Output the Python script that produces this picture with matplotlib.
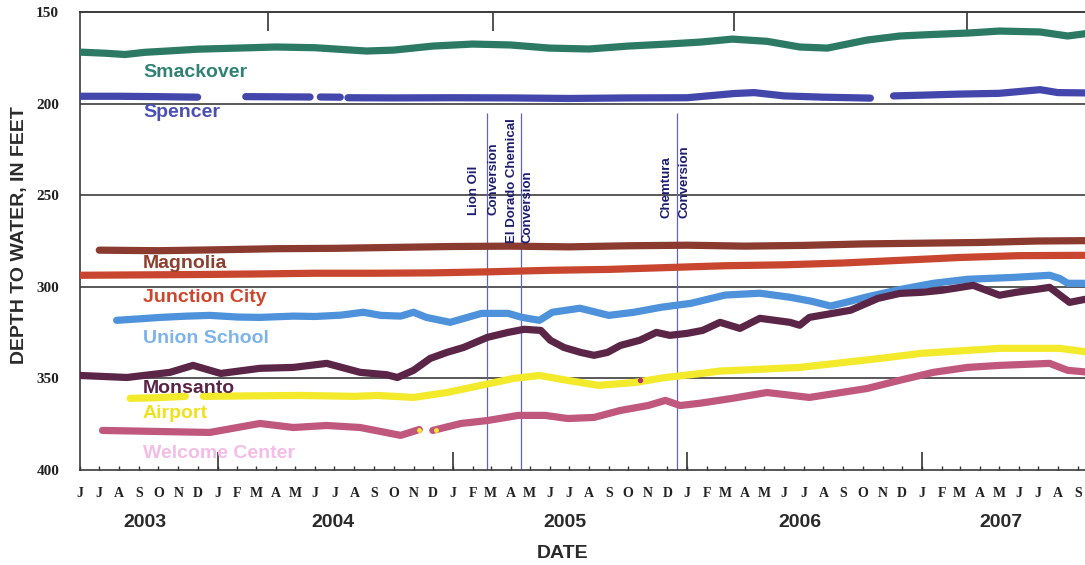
import matplotlib
matplotlib.use("Agg")
import matplotlib.pyplot as plt
import matplotlib.dates as mdates
import matplotlib.transforms as mtransforms
import numpy as np
import pandas as pd

# ---------------- data ----------------
smack_dates = ["2003-06-01", "2003-07-10", "2003-08-10", "2003-09-10", "2003-10-15", "2003-12-01",
               "2004-02-01", "2004-04-01", "2004-06-01", "2004-07-15", "2004-08-20", "2004-10-01",
               "2004-12-01", "2005-02-01", "2005-04-01", "2005-06-01", "2005-08-01", "2005-10-01",
               "2005-12-01", "2006-01-22", "2006-03-12", "2006-05-05", "2006-06-25", "2006-08-07",
               "2006-10-08", "2006-11-28", "2007-01-15", "2007-03-13", "2007-05-02", "2007-07-04",
               "2007-08-16", "2007-09-20"]
smack_vals = [171.9, 172.5, 173.2, 172.0, 171.3, 170.3, 169.7, 169.1, 169.5, 170.5, 171.3, 170.8,
              168.6, 167.5, 168.0, 169.7, 170.2, 168.6, 167.5, 166.4, 164.8, 166.0, 169.1, 169.7,
              165.3, 163.1, 162.3, 161.5, 160.4, 160.9, 163.1, 161.5]

spencer_dates = ["2003-06-01", "2003-08-01", "2003-10-01", "2003-12-01", "2004-01-01",
                 "2004-02-14", "2004-05-24", "2004-06-01",
                 "2004-06-09", "2004-07-10", "2004-07-15",
                 "2004-07-22", "2004-10-01", "2005-01-01", "2005-04-01", "2005-07-01", "2005-10-01",
                 "2006-01-01", "2006-03-15", "2006-04-15", "2006-06-01", "2006-08-01", "2006-10-13",
                 "2006-11-01",
                 "2006-11-18", "2007-01-01", "2007-03-01", "2007-05-01", "2007-07-04", "2007-08-01",
                 "2007-09-20"]
spencer_vals = [196.0, 196.0, 196.2, 196.5, np.nan,
                196.2, 196.4, np.nan,
                196.4, 196.5, np.nan,
                196.8, 196.9, 196.8, 196.9, 197.2, 196.9,
                196.8, 194.5, 194.0, 195.8, 196.5, 197.0,
                np.nan,
                195.8, 195.4, 194.8, 194.4, 192.4, 194.0, 194.2]

magnolia_dates = ["2003-07-01", "2003-10-01", "2004-01-01", "2004-04-01", "2004-07-01", "2004-10-01",
                  "2005-01-01", "2005-04-01", "2005-07-01", "2005-10-01", "2006-01-01", "2006-04-01",
                  "2006-07-01", "2006-10-01", "2007-01-01", "2007-04-01", "2007-07-01", "2007-09-20"]
magnolia_vals = [280.0, 280.3, 279.8, 279.2, 279.0, 278.5, 278.0, 277.8, 278.2, 277.6, 277.3, 277.8,
                 277.4, 276.6, 276.2, 275.8, 275.0, 274.8]

junction_dates = ["2003-06-01", "2003-09-01", "2003-12-01", "2004-03-01", "2004-06-01", "2004-09-01",
                  "2004-12-01", "2005-03-01", "2005-06-01", "2005-09-01", "2005-12-01", "2006-03-01",
                  "2006-06-01", "2006-09-01", "2006-12-01", "2007-03-01", "2007-06-01", "2007-09-20"]
junction_vals = [293.7, 293.5, 293.3, 293.0, 292.6, 292.6, 292.4, 291.8, 291.0, 290.5, 289.5, 288.5,
                 288.0, 287.0, 285.5, 284.0, 283.0, 282.8]

union_dates = ["2003-07-28", "2003-09-01", "2003-10-04", "2003-11-15", "2003-12-20", "2004-02-01",
               "2004-03-07", "2004-04-28", "2004-06-01", "2004-07-10", "2004-08-15", "2004-09-11",
               "2004-10-12", "2004-11-01", "2004-11-21", "2004-12-28", "2005-02-15", "2005-03-28",
               "2005-04-19", "2005-05-16", "2005-06-05", "2005-07-18", "2005-09-01", "2005-10-10",
               "2005-11-21", "2006-01-07", "2006-03-01", "2006-04-24", "2006-06-10", "2006-07-15",
               "2006-08-12", "2006-09-05", "2006-10-08", "2006-11-28", "2007-01-19", "2007-03-13",
               "2007-05-28", "2007-07-19", "2007-08-04", "2007-08-16", "2007-09-20"]
union_vals = [318.3, 317.5, 316.7, 316.0, 315.6, 316.5, 316.7, 316.0, 316.2, 315.5, 313.9, 315.6,
              316.0, 313.9, 316.7, 319.4, 314.5, 314.5, 316.7, 318.3, 313.9, 311.7, 315.6, 313.9,
              311.2, 309.0, 304.5, 303.5, 305.7, 308.0, 310.5, 308.5, 305.5, 301.5, 298.1, 295.9,
              294.8, 293.7, 295.5, 298.1, 298.1]

monsanto_dates = ["2003-06-01", "2003-08-13", "2003-10-19", "2003-11-24", "2004-01-06", "2004-03-07",
                  "2004-04-28", "2004-06-19", "2004-08-10", "2004-09-20", "2004-10-07", "2004-11-01",
                  "2004-11-27", "2004-12-23", "2005-01-18", "2005-02-24", "2005-03-28", "2005-04-22",
                  "2005-05-18", "2005-06-02", "2005-06-23", "2005-07-19", "2005-08-09", "2005-08-30",
                  "2005-09-19", "2005-10-19", "2005-11-14", "2005-12-05", "2006-01-01", "2006-01-25",
                  "2006-02-21", "2006-03-24", "2006-04-24", "2006-06-10", "2006-06-25", "2006-07-10",
                  "2006-09-12", "2006-10-25", "2006-11-28", "2007-01-01", "2007-02-01", "2007-03-22",
                  "2007-05-02", "2007-05-28", "2007-07-19", "2007-08-19", "2007-09-20"]
monsanto_vals = [348.4, 349.5, 346.7, 342.9, 347.3, 344.5, 344.0, 341.8, 346.7, 348.0, 349.5, 345.6,
                 339.1, 335.8, 333.1, 327.6, 324.9, 323.2, 323.8, 329.2, 333.1, 335.8, 337.4, 335.8,
                 332.0, 329.2, 324.9, 326.5, 325.4, 323.8, 319.4, 322.7, 317.2, 319.4, 321.0, 316.7,
                 312.8, 306.3, 303.6, 303.0, 301.9, 299.2, 304.6, 303.0, 300.3, 308.5, 306.3]

airport_dates = ["2003-08-18", "2003-10-01", "2003-11-12", "2003-11-25",
                 "2003-12-10", "2004-03-01", "2004-05-08", "2004-08-01", "2004-09-06", "2004-11-01",
                 "2004-12-23", "2005-02-14", "2005-04-06", "2005-05-16", "2005-06-29", "2005-08-16",
                 "2005-10-12", "2005-11-28", "2006-01-18", "2006-02-21", "2006-06-25", "2006-10-28",
                 "2007-01-01", "2007-05-02", "2007-08-04", "2007-09-20"]
airport_vals = [360.9, 360.5, 359.8, np.nan,
                359.8, 359.5, 359.3, 359.8, 359.3, 360.4,
                357.7, 353.8, 350.0, 348.4, 351.1, 353.8,
                352.2, 349.5, 347.5, 346.0, 344.0, 339.1,
                336.3, 333.6, 333.6, 335.8]

welcome_dates = ["2003-07-06", "2003-10-04", "2003-12-20", "2004-03-07", "2004-04-28", "2004-06-19",
                 "2004-08-10", "2004-10-12", "2004-11-10", "2004-11-20",
                 "2004-12-01", "2005-01-14", "2005-02-24", "2005-04-13", "2005-05-25", "2005-06-29",
                 "2005-08-09", "2005-09-19", "2005-11-01", "2005-11-28", "2005-12-21", "2006-01-22",
                 "2006-03-12", "2006-05-05", "2006-07-10", "2006-10-08", "2006-11-28", "2007-01-19",
                 "2007-03-13", "2007-05-02", "2007-07-19", "2007-08-16", "2007-09-20"]
welcome_vals = [378.4, 379.0, 379.5, 374.6, 376.8, 375.7,
                376.8, 381.1, 377.9, np.nan,
                378.4, 374.6, 373.0, 370.2, 370.2, 371.9,
                371.3, 367.5, 364.8, 362.0, 364.8, 363.5,
                360.9, 357.7, 360.4, 355.5, 351.0, 346.7,
                344.0, 342.9, 341.8, 345.6, 346.7]

series_names = ["Smackover", "Spencer", "Magnolia", "Junction City", "Union School",
                "Monsanto", "Airport", "Welcome Center"]
label_values = [182.8, 204.6, 287.2, 305.7, 328.1, 355.5, 369.1, 391.0]

conv_dates = ["2005-02-24", "2005-04-18", "2005-12-16"]
conv_line1 = ["Lion Oil", "El Dorado Chemical", "Chemtura"]
conv_line2 = ["Conversion", "Conversion", "Conversion"]

month_letters = list("JJASOND" + "JFMAMJJASOND" * 4)[:52]
year_labels = ["2003", "2004", "2005", "2006", "2007"]
year_label_dates = ["2003-09-10", "2004-06-29", "2005-06-25", "2006-06-25", "2007-05-04"]
top_tick_dates = ["2004-03-19", "2005-03-04", "2006-03-14", "2007-03-13"]
y_ticks = [150, 200, 250, 300, 350, 400]

# ---------------- styles ----------------
line_colors = ["#2c7a63", "#4347ab", "#8a3a2e", "#c8462f", "#4d92da", "#5b2547", "#f3ea2c", "#c0587d"]
text_colors = ["#2f8274", "#4a4fb6", "#8e3f2e", "#d0442b", "#7db3ea", "#5a2446", "#efe11c", "#f4bce6"]

SANS = ["Liberation Sans", "DejaVu Sans"]
SERIF = ["Liberation Serif", "DejaVu Serif"]

fig = plt.figure(figsize=(10.85, 5.65), dpi=100)
ax = fig.add_axes([80 / 1085, 1 - 470 / 565, 1 - 80 / 1085, (470 - 12) / 565])

xs = [pd.to_datetime(d) for d in [smack_dates, spencer_dates, magnolia_dates, junction_dates,
                                   union_dates, monsanto_dates, airport_dates, welcome_dates]]
ys = [smack_vals, spencer_vals, magnolia_vals, junction_vals, union_vals, monsanto_vals,
      airport_vals, welcome_vals]

for x, y, c in zip(xs, ys, line_colors):
    ax.plot(x, y, color=c, lw=5.2, solid_capstyle="round", solid_joinstyle="round", zorder=3)

# small stray dots seen on the record
ax.scatter(pd.to_datetime(["2004-11-10", "2004-12-06"]), [377.9, 378.2], s=6, color="#f3ea2c", zorder=4)
ax.scatter(pd.to_datetime(["2005-10-19"]), [351.1], s=8, color="#b0306a", zorder=4)

ax.set_ylim(400, 150)
ax.set_xlim(pd.Timestamp("2003-06-01"), pd.Timestamp("2007-09-12"))

# horizontal grid
for v in y_ticks[1:-1]:
    ax.axhline(v, color="#3c3c3c", lw=1.2, zorder=1)

# conversion lines
cd = pd.to_datetime(conv_dates)
ax.vlines(cd, 205, 400, color="#6060d8", lw=0.9, zorder=2)
offs1 = [-13, -9, -10]
offs2 = [6, 6, 8]
bottoms = [260.9, 276.2, 262.6]
for d, t1, t2, o1, o2, b in zip(cd, conv_line1, conv_line2, offs1, offs2, bottoms):
    tr1 = ax.transData + mtransforms.ScaledTranslation(o1 / 100, 0, fig.dpi_scale_trans)
    tr2 = ax.transData + mtransforms.ScaledTranslation(o2 / 100, 0, fig.dpi_scale_trans)
    ax.text(d, b, t1, rotation=90, ha="center", va="bottom", fontsize=9.5, fontweight="bold",
            family=SANS, color="#1d1d70", transform=tr1, zorder=5)
    ax.text(d, b, t2, rotation=90, ha="center", va="bottom", fontsize=9.5, fontweight="bold",
            family=SANS, color="#1d1d70", transform=tr2, zorder=5)

# series labels
lt = mtransforms.blended_transform_factory(ax.transAxes, ax.transData)
for name, v, c in zip(series_names, label_values, text_colors):
    ax.text(0.0627, v, name, transform=lt, ha="left", va="center", fontsize=14,
            fontweight="bold", family=SANS, color=c, zorder=6)

# spines
ax.spines["right"].set_visible(False)
for s in ["left", "top", "bottom"]:
    ax.spines[s].set_color("#3a3a3a")
    ax.spines[s].set_linewidth(1.2)

# x ticks: months
months = pd.date_range("2003-06-01", "2007-09-01", freq="MS")
ax.set_xticks(months)
ax.set_xticklabels(month_letters, family=SERIF, fontweight="bold", fontsize=10, color="#222222")
ax.tick_params(axis="x", which="major", direction="in", length=3, width=1, pad=12, color="#333333")
ax.xaxis.remove_overlapping_locs = False
jans = pd.date_range("2004-01-01", "2007-01-01", freq="YS")
ax.set_xticks(jans, minor=True)
ax.tick_params(axis="x", which="minor", direction="in", length=13, width=1.2, color="#333333")

# top ticks
secax = ax.secondary_xaxis("top")
secax.set_xticks(mdates.date2num(pd.to_datetime(top_tick_dates)))
secax.tick_params(direction="in", length=14, width=1.2, color="#333333", labeltop=False)
secax.spines["top"].set_color("#3a3a3a")
secax.spines["top"].set_linewidth(1.2)

# y ticks
ax.set_yticks(y_ticks)
ax.set_yticklabels([str(v) for v in y_ticks], family=SERIF, fontweight="bold", fontsize=11,
                   color="#222222")
ax.tick_params(axis="y", length=0, pad=15)

# year labels
yt = mtransforms.blended_transform_factory(ax.transData, ax.transAxes)
for lab, d in zip(year_labels, pd.to_datetime(year_label_dates)):
    ax.text(d, -0.1157, lab, transform=yt, ha="center", va="center", fontsize=14,
            fontweight="bold", family=SANS, color="#2a2a2a")

fig.text(563 / 1085, 1 - 553 / 565, "DATE", ha="center", va="center", fontsize=14,
         fontweight="bold", family=SANS, color="#2a2a2a")
fig.text(20 / 1085, 1 - 235 / 565, "DEPTH TO WATER, IN FEET", rotation=90, ha="center",
         va="center", fontsize=14, fontweight="bold", family=SANS, color="#2a2a2a")

fig.savefig("out.png", dpi=100)
